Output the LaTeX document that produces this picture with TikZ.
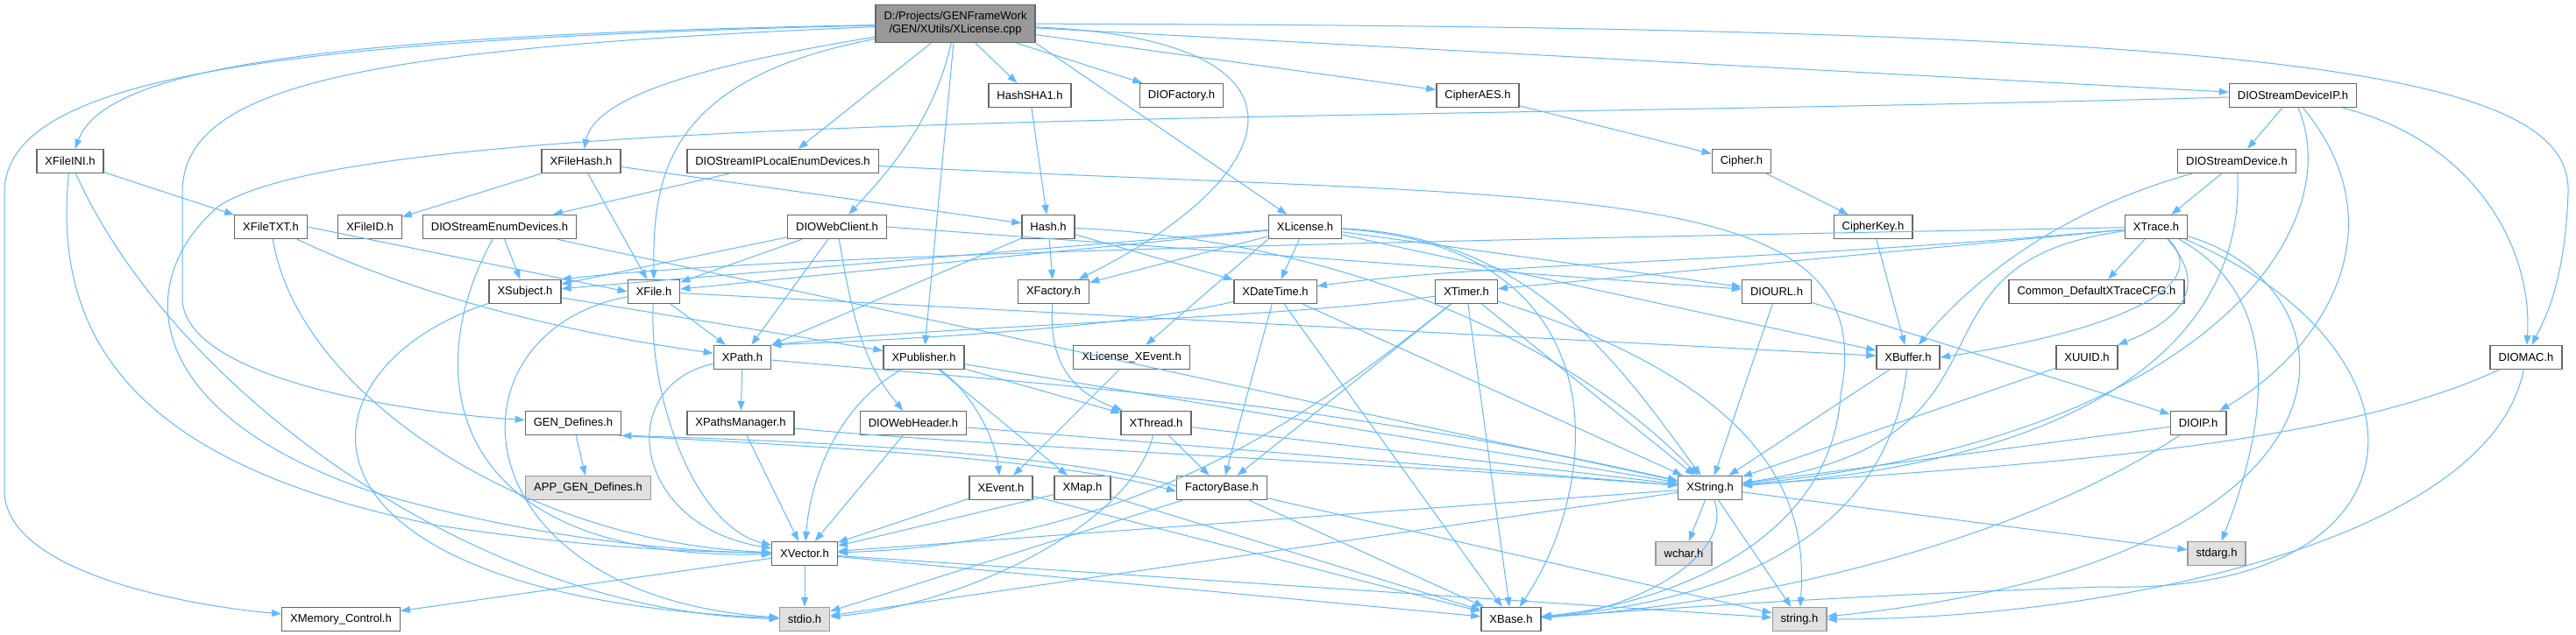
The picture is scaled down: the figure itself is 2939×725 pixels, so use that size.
\documentclass[tikz,border=0pt]{standalone}
\usepackage{fontspec}
\setmainfont{Liberation Sans}
\usetikzlibrary{arrows.meta}
\definecolor{deplink}{HTML}{63B8FF}
\definecolor{boxline}{HTML}{666666}
\definecolor{sysline}{HTML}{999999}
\definecolor{sysfill}{HTML}{E0E0E0}
\definecolor{rootfill}{HTML}{999999}
\begin{document}
\begin{tikzpicture}[x=1pt,y=-1pt,
    hdr/.style={draw=boxline,line width=1.4pt,fill=white,inner xsep=9.5pt,inner ysep=0pt,
      minimum height=27pt,font=\fontsize{13}{15}\selectfont},
    sys/.style={hdr,draw=sysline,fill=sysfill},
    dep/.style={draw=deplink,line width=1pt,-{Triangle[length=11pt,width=8pt]}}]
  \useasboundingbox[fill=white] (0,0) rectangle (2939,725);
  \node[hdr,fill=rootfill,align=center,minimum height=43pt] (root) at (1090,27) {D:/Projects/GENFrameWork\\/GEN/XUtils/XLicense.cpp};
  \node[hdr] (hashsha1) at (1175,109) {HashSHA1.h};
  \node[hdr] (diofactory) at (1348,109) {DIOFactory.h};
  \node[hdr] (cipheraes) at (1686,109) {CipherAES.h};
  \node[hdr] (diostreamdeviceip) at (2616,109) {DIOStreamDeviceIP.h};
  \node[hdr] (xfileini) at (80,184) {XFileINI.h};
  \node[hdr] (xfilehash) at (663,184) {XFileHash.h};
  \node[hdr] (diostreamiplocal) at (893,184) {DIOStreamIPLocalEnumDevices.h};
  \node[hdr] (cipher) at (1987,184) {Cipher.h};
  \node[hdr] (diostreamdevice) at (2552,184) {DIOStreamDevice.h};
  \node[hdr] (xfiletxt) at (309,259) {XFileTXT.h};
  \node[hdr] (xfileid) at (422,259) {XFileID.h};
  \node[hdr] (diostreamenum) at (570,259) {DIOStreamEnumDevices.h};
  \node[hdr] (diowebclient) at (955,259) {DIOWebClient.h};
  \node[hdr] (hash) at (1196,259) {Hash.h};
  \node[hdr] (xlicense) at (1489,259) {XLicense.h};
  \node[hdr] (cipherkey) at (2137,259) {CipherKey.h};
  \node[hdr] (xtrace) at (2460,259) {XTrace.h};
  \node[hdr] (xsubject) at (599,333) {XSubject.h};
  \node[hdr] (xfile) at (746,333) {XFile.h};
  \node[hdr] (xfactory) at (1202,333) {XFactory.h};
  \node[hdr] (xdatetime) at (1455,333) {XDateTime.h};
  \node[hdr] (xtimer) at (1673,333) {XTimer.h};
  \node[hdr] (diourl) at (2027,333) {DIOURL.h};
  \node[hdr] (common) at (2392,333) {Common\_DefaultXTraceCFG.h};
  \node[hdr] (xpath) at (847,408) {XPath.h};
  \node[hdr] (xpublisher) at (1054,408) {XPublisher.h};
  \node[hdr] (xlicensexevent) at (1291,408) {XLicense\_XEvent.h};
  \node[hdr] (xbuffer) at (2177,408) {XBuffer.h};
  \node[hdr] (xuuid) at (2381,408) {XUUID.h};
  \node[hdr] (diomac) at (2882,408) {DIOMAC.h};
  \node[hdr] (gendefines) at (654,483) {GEN\_Defines.h};
  \node[hdr] (xpathsmanager) at (845,483) {XPathsManager.h};
  \node[hdr] (diowebheader) at (1042,483) {DIOWebHeader.h};
  \node[hdr] (xthread) at (1319,483) {XThread.h};
  \node[hdr] (dioip) at (2508,483) {DIOIP.h};
  \node[sys] (appgendefines) at (671,557) {APP\_GEN\_Defines.h};
  \node[hdr] (xevent) at (1142,557) {XEvent.h};
  \node[hdr] (xmap) at (1235,557) {XMap.h};
  \node[hdr] (factorybase) at (1394,557) {FactoryBase.h};
  \node[hdr] (xstring) at (1951,557) {XString.h};
  \node[hdr] (xvector) at (918,632) {XVector.h};
  \node[sys] (wchar) at (1921,632) {wchar.h};
  \node[sys] (stdarg) at (2529,632) {stdarg.h};
  \node[hdr] (xmemory) at (389,707) {XMemory\_Control.h};
  \node[sys] (stdio) at (918,707) {stdio.h};
  \node[hdr] (xbase) at (1724,707) {XBase.h};
  \node[sys] (string) at (2053,707) {string.h};
  \foreach \a/\b in {root/diostreamiplocal,root/xpublisher,root/hashsha1,root/diofactory,
      root.south east/xlicense,root/cipheraes,root/diostreamdeviceip,xfileini/xfiletxt,
      xfiletxt.east/xfile.west,xfilehash/xfileid,xfilehash/xfile,xfilehash/hash,
      diostreamiplocal/diostreamenum,diostreamenum/xsubject,diostreamenum/xstring,
      xsubject/xpublisher,xfile/xpath,xfile/xbuffer,diowebclient/xsubject,diowebclient/xfile,
      diowebclient/xpath,diowebclient.east/diourl,hashsha1/hash,hash/xfactory,hash/xdatetime,
      hash/xpath,xlicense/xfactory,xlicense/xdatetime,xlicense.south west/xlicensexevent,
      xlicense/xsubject,xlicense/xfile,xlicense/diourl,xlicense/xbuffer,xdatetime/factorybase,
      xdatetime/xbase,xdatetime/xstring,xtimer/factorybase,xtimer/xbase,xtimer/xstring,
      diourl/xstring,diourl/dioip,cipheraes/cipher,cipher/cipherkey,cipherkey/xbuffer,
      diostreamdeviceip/diostreamdevice,diostreamdevice/xtrace,xtrace/common,xtrace/xtimer,
      xpublisher/xmap,xpublisher/xthread,xpublisher/xstring,
      xlicensexevent/xevent,xpath/xpathsmanager,xpathsmanager/xvector,diowebheader/xvector,
      diowebheader/xstring,xthread/factorybase,xthread/xstring,gendefines/appgendefines,
      xevent/xvector,xevent/xbase,xmap/xvector,xmap/xbase,factorybase/xbase,factorybase/string,
      factorybase/stdio,xbuffer/xstring,xuuid/xstring,dioip/xstring,xstring/wchar,
      xstring/string,xstring/stdarg,xstring/xvector,xstring/stdio,xvector/xmemory,
      xvector/stdio,xvector/xbase,xvector/string}
    \draw[dep] (\a) -- (\b);
  \draw[dep] (root) .. controls (300,45) and (5,90) .. (5,220) -- (5,560) .. controls (5,650) and (200,690) .. (xmemory);
  \draw[dep] (root) .. controls (350,40) and (120,80) .. (xfileini);
  \draw[dep] (root) .. controls (400,55) and (208,100) .. (208,220) -- (208,340) .. controls (208,430) and (450,470) .. (gendefines);
  \draw[dep] (root) .. controls (800,75) and (680,110) .. (xfilehash);
  \draw[dep] (root) .. controls (760,90) and (745,200) .. (xfile);
  \draw[dep] (root) .. controls (1065,140) and (1010,200) .. (diowebclient);
  \draw[dep] (root) .. controls (1520,45) and (1470,200) .. (xfactory);
  \draw[dep] (root) .. controls (2600,30) and (2935,80) .. (2930,220) .. controls (2926,330) and (2900,370) .. (diomac);
  \draw[dep] (diostreamdeviceip) .. controls (1500,140) and (420,125) .. (250,235) .. controls (150,320) and (160,470) .. (420,560) .. controls (620,620) and (800,630) .. (xvector);
  \draw[dep] (xfileini) .. controls (55,420) and (200,540) .. (500,600) .. controls (700,630) and (820,630) .. (xvector);
  \draw[dep] (xfileini) .. controls (200,450) and (550,700) .. (stdio);
  \draw[dep] (xfiletxt) .. controls (480,340) and (650,380) .. (xpath);
  \draw[dep] (xfiletxt) .. controls (340,450) and (600,620) .. (xvector);
  \draw[dep] (diostreamiplocal) .. controls (1800,230) and (2150,200) .. (2100,450) .. controls (2090,620) and (1900,690) .. (xbase);
  \draw[dep] (diostreamenum) .. controls (480,420) and (500,640) .. (xvector);
  \draw[dep] (xsubject) .. controls (330,420) and (300,680) .. (stdio);
  \draw[dep] (xfile) .. controls (740,450) and (790,600) .. (xvector);
  \draw[dep] (xfile) .. controls (500,380) and (520,680) .. (stdio);
  \draw[dep] (diowebclient) .. controls (975,380) and (990,420) .. (diowebheader);
  \draw[dep] (hash) .. controls (1550,275) and (1800,400) .. (xstring);
  \draw[dep] (xlicense) .. controls (1850,280) and (1830,550) .. (xbase);
  \draw[dep] (xlicense) .. controls (1750,270) and (1850,420) .. (xstring);
  \draw[dep] (xfactory) .. controls (1195,420) and (1230,450) .. (xthread);
  \draw[dep] (xdatetime) .. controls (1300,370) and (1100,385) .. (xpath.north east);
  \draw[dep] (xtimer) .. controls (1450,365) and (1100,370) .. (xpath.north east);
  \draw[dep] (xtimer) .. controls (1500,470) and (1300,620) .. (xvector);
  \draw[dep] (xtimer) .. controls (2050,450) and (2060,600) .. (string);
  \draw[dep] (diostreamdeviceip) .. controls (2740,260) and (2650,400) .. (dioip);
  \draw[dep] (diostreamdeviceip) .. controls (2820,160) and (2890,280) .. (diomac);
  \draw[dep] (diostreamdeviceip) .. controls (2680,260) and (2520,500) .. (xstring);
  \draw[dep] (diostreamdevice) .. controls (2560,340) and (2460,520) .. (xstring);
  \draw[dep] (diostreamdevice) .. controls (2350,240) and (2250,320) .. (xbuffer);
  \draw[dep] (xtrace) .. controls (2000,300) and (1700,300) .. (xdatetime);
  \draw[dep] (xtrace) .. controls (1600,275) and (900,290) .. (xsubject.north east);
  \draw[dep] (xtrace) .. controls (2150,300) and (2330,500) .. (xstring);
  \draw[dep] (xtrace) .. controls (2530,330) and (2400,380) .. (xbuffer.east);
  \draw[dep] (xtrace) .. controls (2515,320) and (2500,360) .. (xuuid);
  \draw[dep] (xtrace) .. controls (2590,330) and (2600,450) .. (stdarg);
  \draw[dep] (xtrace) .. controls (2700,330) and (2720,640) .. (string);
  \draw[dep] (xtrace) .. controls (2790,400) and (2780,680) .. (2400,670) .. controls (2100,680) and (1900,695) .. (xbase);
  \draw[dep] (xpublisher) .. controls (960,460) and (925,540) .. (xvector);
  \draw[dep] (xpublisher) .. controls (1110,450) and (1135,500) .. (xevent);
  \draw[dep] (xpath) .. controls (1200,440) and (1500,455) .. (xstring);
  \draw[dep] (xpath) .. controls (700,440) and (720,600) .. (xvector);
  \draw[dep] (xpathsmanager) .. controls (1100,508) and (1600,530) .. (xstring);
  \draw[dep] (xthread) .. controls (1290,600) and (1100,690) .. (stdio);
  \draw[dep] (diomac) .. controls (2650,515) and (2300,530) .. (xstring);
  \draw[dep] (diomac) .. controls (2840,620) and (2400,707) .. (string);
  \draw[dep] (dioip) .. controls (2300,620) and (2000,690) .. (xbase);
  \draw[dep] (xbuffer) .. controls (2160,560) and (2050,680) .. (xbase);
  \draw[dep] (xstring) .. controls (1980,640) and (1850,700) .. (xbase);
  \draw[dep] ([xshift=-4pt]gendefines.south east) .. controls (900,508) and (1200,522) .. ([yshift=-4pt]factorybase.west);
  \draw[dep] ([yshift=2pt]factorybase.west) .. controls (1200,515) and (900,503) .. (gendefines.south east);
\end{tikzpicture}
\end{document}
